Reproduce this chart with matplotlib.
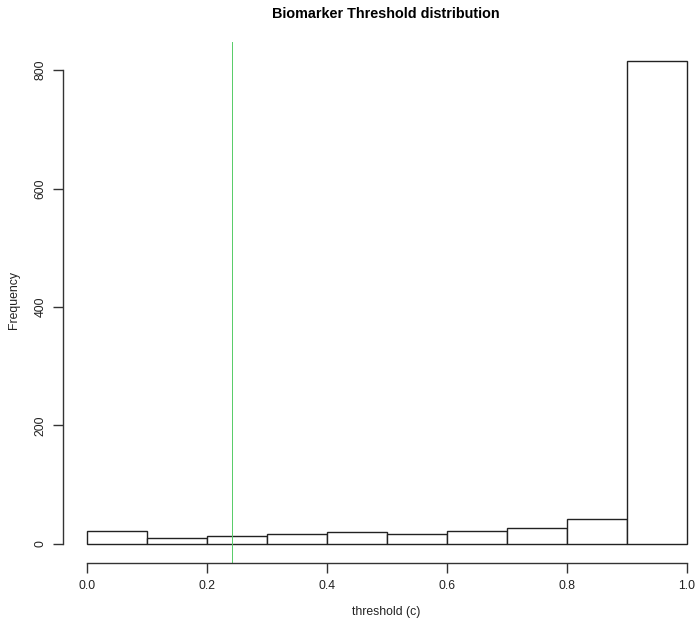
import matplotlib
matplotlib.use("Agg")
import matplotlib.pyplot as plt
import numpy as np

plt.rcParams['font.family'] = ['Liberation Sans', 'DejaVu Sans']

bin_edges = [0.0, 0.1, 0.2, 0.3, 0.4, 0.5, 0.6, 0.7, 0.8, 0.9, 1.0]
counts = [22, 9, 13, 17, 19, 17, 22, 27, 41, 815]
threshold_line = 0.242
x_ticks = [0.0, 0.2, 0.4, 0.6, 0.8, 1.0]
x_tick_labels = ["0.0", "0.2", "0.4", "0.6", "0.8", "1.0"]
y_ticks = [0, 200, 400, 600, 800]
title = "Biomarker Threshold distribution"
xlabel = "threshold (c)"
ylabel = "Frequency"

W, H = 697, 620
fig = plt.figure(figsize=(W / 100, H / 100), dpi=100)
left, right, top, bottom = 63, 711, 42, 563
ax = fig.add_axes([left / W, (H - bottom) / H, (right - left) / W, (bottom - top) / H])

lefts = np.array(bin_edges[:-1])
widths = np.diff(bin_edges)
ax.bar(lefts, counts, width=widths, align='edge', facecolor='white',
       edgecolor='#222222', linewidth=1.0)

ymax = max(counts)
ax.set_xlim(-0.04, 1.04)
ax.set_ylim(-0.04 * ymax, 1.04 * ymax)

ax.axvline(threshold_line, color='#55cc66', linewidth=0.7)

for s in ['top', 'right']:
    ax.spines[s].set_visible(False)
ax.spines['left'].set_bounds(0, 800)
ax.spines['bottom'].set_bounds(0, 1)
for s in ['left', 'bottom']:
    ax.spines[s].set_color('#333333')
    ax.spines[s].set_linewidth(1.0)

ax.set_xticks(x_ticks)
ax.set_xticklabels(x_tick_labels)
ax.set_yticks(y_ticks)
ax.set_yticklabels([str(v) for v in y_ticks], rotation=90, va='center')
ax.tick_params(axis='both', length=7, width=1.0, color='#333333', labelsize=8.8,
               labelcolor='#222222')
ax.tick_params(axis='x', pad=5)
ax.tick_params(axis='y', pad=5)

fig.text(386 / W, 1 - 14 / H, title, ha='center', va='center', fontsize=10.4,
         fontweight='bold', color='black')
fig.text(386 / W, 1 - 612 / H, xlabel, ha='center', va='center', fontsize=8.8,
         color='#222222')
fig.text(14 / W, 1 - 300 / H, ylabel, ha='center', va='center', fontsize=8.8,
         rotation=90, color='#222222')

fig.savefig("out.png", dpi=100)
